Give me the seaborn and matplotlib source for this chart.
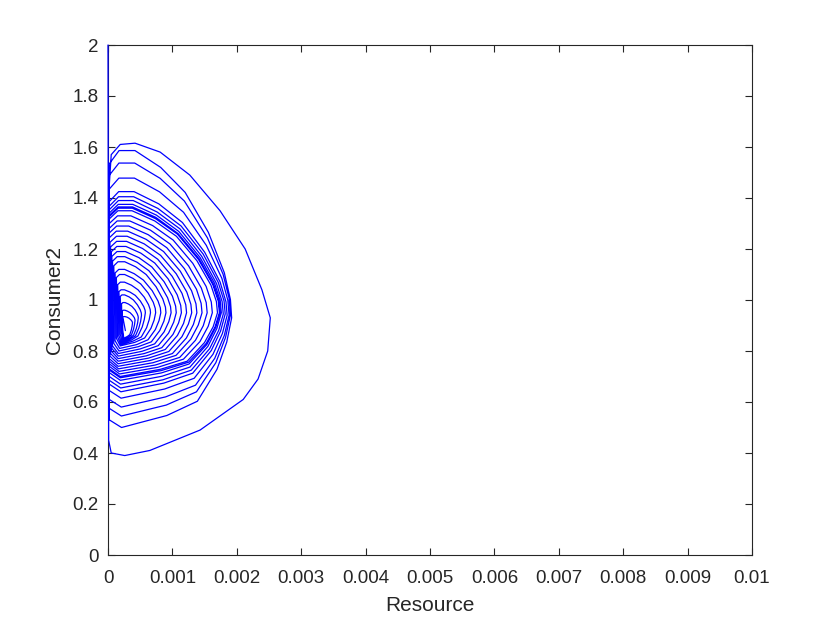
import numpy as np
import pandas as pd
import matplotlib
matplotlib.use("Agg")
import matplotlib.pyplot as plt
import seaborn as sns

# Trajectory points (Resource in units of 1e-3, Consumer2)
resource_milli = [
    0.00, 0.01, 0.05,
    # loop 1
    0.26, 0.65, 1.43, 2.10, 2.33, 2.48, 2.52, 2.39, 2.13, 1.74, 1.27, 0.81, 0.42, 0.19, 0.05, 0.02, 0.02,
    # loop 2
    0.210, 0.913, 1.388, 1.692, 1.844, 1.920, 1.901, 1.806, 1.559, 1.198, 0.818, 0.419, 0.172, 0.02, 0.02,
    # loop 3
    0.208, 0.904, 1.374, 1.674, 1.825, 1.900, 1.881, 1.787, 1.543, 1.186, 0.810, 0.415, 0.170, 0.02, 0.02,
    # loop 4
    0.206, 0.894, 1.359, 1.657, 1.806, 1.880, 1.861, 1.768, 1.527, 1.173, 0.801, 0.411, 0.169, 0.02, 0.02,
    # loop 5
    0.203, 0.880, 1.338, 1.630, 1.777, 1.850, 1.832, 1.740, 1.502, 1.155, 0.789, 0.404, 0.166, 0.02, 0.02,
    # loop 6
    0.200, 0.866, 1.316, 1.604, 1.748, 1.820, 1.802, 1.712, 1.478, 1.136, 0.776, 0.398, 0.164, 0.02, 0.02,
    # loop 7
    0.197, 0.852, 1.294, 1.578, 1.719, 1.790, 1.772, 1.684, 1.454, 1.117, 0.763, 0.392, 0.162, 0.02, 0.02,
    # loop 8
    0.194, 0.838, 1.273, 1.551, 1.690, 1.760, 1.743, 1.656, 1.429, 1.099, 0.751, 0.385, 0.159, 0.02, 0.02,
    # loop 9
    0.192, 0.828, 1.258, 1.534, 1.671, 1.740, 1.723, 1.637, 1.413, 1.086, 0.742, 0.381, 0.158, 0.02, 0.02,
    # loop 10
    0.191, 0.824, 1.251, 1.525, 1.662, 1.730, 1.713, 1.627, 1.405, 1.080, 0.738, 0.379, 0.157, 0.02, 0.02,
    # loop 11
    0.188, 0.810, 1.230, 1.498, 1.633, 1.700, 1.683, 1.599, 1.381, 1.062, 0.726, 0.373, 0.154, 0.02, 0.02,
    # loop 12
    0.180, 0.772, 1.172, 1.428, 1.556, 1.620, 1.604, 1.524, 1.316, 1.012, 0.692, 0.356, 0.148, 0.02, 0.02,
    # loop 13
    0.172, 0.734, 1.114, 1.358, 1.479, 1.540, 1.525, 1.449, 1.251, 0.962, 0.658, 0.339, 0.142, 0.02, 0.02,
    # loop 14
    0.164, 0.697, 1.057, 1.287, 1.402, 1.460, 1.446, 1.374, 1.186, 0.913, 0.625, 0.322, 0.135, 0.02, 0.02,
    # loop 15
    0.156, 0.659, 1.000, 1.217, 1.326, 1.380, 1.366, 1.298, 1.122, 0.863, 0.591, 0.306, 0.129, 0.02, 0.03,
    # loop 16
    0.157, 0.627, 0.944, 1.148, 1.249, 1.300, 1.287, 1.224, 1.059, 0.817, 0.563, 0.297, 0.132, 0.03, 0.04,
    # loop 17
    0.158, 0.595, 0.890, 1.078, 1.173, 1.220, 1.208, 1.149, 0.996, 0.772, 0.536, 0.288, 0.134, 0.04, 0.05,
    # loop 18
    0.159, 0.562, 0.835, 1.009, 1.096, 1.140, 1.129, 1.075, 0.933, 0.726, 0.508, 0.279, 0.137, 0.05, 0.06,
    # loop 19
    0.160, 0.530, 0.780, 0.940, 1.020, 1.060, 1.050, 1.000, 0.870, 0.680, 0.480, 0.270, 0.140, 0.06, 0.07,
    # loop 20
    0.161, 0.498, 0.725, 0.871, 0.944, 0.980, 0.971, 0.925, 0.807, 0.634, 0.452, 0.261, 0.143, 0.07, 0.09,
    # loop 21
    0.171, 0.471, 0.673, 0.803, 0.868, 0.900, 0.892, 0.851, 0.746, 0.592, 0.430, 0.260, 0.155, 0.09, 0.11,
    # loop 22
    0.181, 0.444, 0.621, 0.735, 0.792, 0.820, 0.813, 0.777, 0.685, 0.550, 0.408, 0.259, 0.167, 0.11, 0.13,
    # loop 23
    0.191, 0.417, 0.569, 0.667, 0.716, 0.740, 0.734, 0.703, 0.624, 0.508, 0.386, 0.258, 0.179, 0.13, 0.15,
    # loop 24
    0.201, 0.390, 0.517, 0.599, 0.640, 0.660, 0.655, 0.629, 0.563, 0.466, 0.364, 0.257, 0.191, 0.15, 0.17,
    # loop 25
    0.211, 0.363, 0.465, 0.531, 0.564, 0.580, 0.576, 0.555, 0.502, 0.424, 0.342, 0.256, 0.203, 0.17, 0.19,
    # loop 26
    0.223, 0.345, 0.428, 0.480, 0.507, 0.520, 0.517, 0.500, 0.457, 0.395, 0.329, 0.259, 0.216, 0.19, 0.21,
    # loop 27
    0.236, 0.332, 0.397, 0.439, 0.460, 0.470, 0.467, 0.454, 0.421, 0.371, 0.319, 0.265, 0.231, 0.21, 0.22,
    # loop 28
    0.240, 0.314, 0.364, 0.396, 0.412, 0.420, 0.418, 0.408, 0.382, 0.344, 0.304, 0.262, 0.236, 0.22, 0.23,
    # loop 29
    0.245, 0.301, 0.338, 0.362, 0.374, 0.380, 0.379, 0.371, 0.352, 0.323, 0.293, 0.262, 0.242, 0.23, 0.27,
]

consumer2 = [
    2.00, 0.45, 0.40,
    # loop 1
    0.39, 0.41, 0.49, 0.61, 0.69, 0.80, 0.93, 1.04, 1.20, 1.35, 1.49, 1.58, 1.615, 1.61, 1.57, 1.45, 0.53,
    # loop 2
    0.500, 0.547, 0.603, 0.728, 0.835, 0.930, 1.002, 1.107, 1.265, 1.422, 1.520, 1.586, 1.586, 1.534, 0.575,
    # loop 3
    0.545, 0.588, 0.640, 0.754, 0.853, 0.940, 1.006, 1.101, 1.244, 1.388, 1.477, 1.537, 1.537, 1.489, 0.610,
    # loop 4
    0.580, 0.620, 0.666, 0.771, 0.861, 0.940, 0.999, 1.085, 1.214, 1.344, 1.424, 1.478, 1.478, 1.435, 0.645,
    # loop 5
    0.615, 0.651, 0.693, 0.787, 0.869, 0.940, 0.993, 1.071, 1.187, 1.304, 1.377, 1.425, 1.425, 1.386, 0.670,
    # loop 6
    0.640, 0.674, 0.713, 0.802, 0.878, 0.945, 0.996, 1.069, 1.180, 1.290, 1.359, 1.405, 1.405, 1.368, 0.685,
    # loop 7
    0.655, 0.687, 0.725, 0.809, 0.881, 0.945, 0.994, 1.065, 1.172, 1.279, 1.345, 1.390, 1.390, 1.354, 0.700,
    # loop 8
    0.670, 0.701, 0.737, 0.818, 0.888, 0.950, 0.997, 1.065, 1.167, 1.269, 1.333, 1.375, 1.375, 1.341, 0.715,
    # loop 9
    0.685, 0.714, 0.749, 0.825, 0.892, 0.950, 0.996, 1.062, 1.162, 1.261, 1.324, 1.365, 1.365, 1.332, 0.725,
    # loop 10
    0.695, 0.723, 0.756, 0.830, 0.894, 0.950, 0.995, 1.061, 1.159, 1.258, 1.319, 1.360, 1.360, 1.327, 0.730,
    # loop 11
    0.700, 0.728, 0.760, 0.833, 0.895, 0.950, 0.994, 1.058, 1.154, 1.250, 1.310, 1.350, 1.350, 1.318, 0.740,
    # loop 12
    0.710, 0.736, 0.768, 0.837, 0.897, 0.950, 0.992, 1.053, 1.144, 1.235, 1.292, 1.330, 1.330, 1.300, 0.750,
    # loop 13
    0.720, 0.745, 0.775, 0.842, 0.899, 0.950, 0.990, 1.047, 1.134, 1.220, 1.274, 1.310, 1.310, 1.281, 0.760,
    # loop 14
    0.730, 0.754, 0.783, 0.847, 0.902, 0.950, 0.987, 1.042, 1.123, 1.205, 1.256, 1.290, 1.290, 1.263, 0.770,
    # loop 15
    0.740, 0.763, 0.790, 0.851, 0.904, 0.950, 0.985, 1.036, 1.113, 1.190, 1.238, 1.270, 1.270, 1.244, 0.780,
    # loop 16
    0.750, 0.772, 0.798, 0.856, 0.906, 0.950, 0.983, 1.031, 1.103, 1.175, 1.220, 1.250, 1.250, 1.226, 0.790,
    # loop 17
    0.760, 0.781, 0.806, 0.861, 0.908, 0.950, 0.981, 1.026, 1.093, 1.160, 1.202, 1.230, 1.230, 1.208, 0.800,
    # loop 18
    0.770, 0.790, 0.813, 0.865, 0.910, 0.950, 0.979, 1.020, 1.083, 1.145, 1.184, 1.210, 1.210, 1.189, 0.810,
    # loop 19
    0.780, 0.799, 0.821, 0.870, 0.913, 0.950, 0.976, 1.015, 1.072, 1.130, 1.166, 1.190, 1.190, 1.171, 0.820,
    # loop 20
    0.790, 0.808, 0.828, 0.875, 0.915, 0.950, 0.974, 1.009, 1.062, 1.115, 1.148, 1.170, 1.170, 1.152, 0.830,
    # loop 21
    0.800, 0.817, 0.836, 0.880, 0.917, 0.950, 0.972, 1.004, 1.052, 1.100, 1.130, 1.150, 1.150, 1.134, 0.840,
    # loop 22
    0.810, 0.825, 0.844, 0.884, 0.919, 0.950, 0.969, 0.996, 1.037, 1.078, 1.103, 1.120, 1.120, 1.106, 0.850,
    # loop 23
    0.820, 0.834, 0.851, 0.889, 0.921, 0.950, 0.967, 0.991, 1.027, 1.063, 1.085, 1.100, 1.100, 1.088, 0.855,
    # loop 24
    0.825, 0.839, 0.855, 0.891, 0.923, 0.950, 0.963, 0.982, 1.011, 1.040, 1.058, 1.070, 1.070, 1.060, 0.860,
    # loop 25
    0.830, 0.843, 0.859, 0.894, 0.924, 0.950, 0.960, 0.974, 0.996, 1.018, 1.031, 1.040, 1.040, 1.033, 0.865,
    # loop 26
    0.835, 0.847, 0.860, 0.891, 0.917, 0.940, 0.949, 0.962, 0.981, 1.000, 1.012, 1.020, 1.020, 1.014, 0.870,
    # loop 27
    0.840, 0.850, 0.862, 0.888, 0.910, 0.930, 0.937, 0.946, 0.961, 0.975, 0.984, 0.990, 0.990, 0.985, 0.875,
    # loop 28
    0.845, 0.853, 0.863, 0.885, 0.904, 0.920, 0.924, 0.931, 0.940, 0.950, 0.956, 0.960, 0.960, 0.957, 0.880,
    # loop 29
    0.850, 0.857, 0.864, 0.882, 0.897, 0.910, 0.913, 0.917, 0.923, 0.929, 0.933, 0.935, 0.935, 0.933, 0.880,
]

x_ticks = [0, 0.001, 0.002, 0.003, 0.004, 0.005, 0.006, 0.007, 0.008, 0.009, 0.01]
x_tick_labels = ["0", "0.001", "0.002", "0.003", "0.004", "0.005", "0.006", "0.007", "0.008", "0.009", "0.01"]
y_ticks = [0, 0.2, 0.4, 0.6, 0.8, 1.0, 1.2, 1.4, 1.6, 1.8, 2.0]
y_tick_labels = ["0", "0.2", "0.4", "0.6", "0.8", "1", "1.2", "1.4", "1.6", "1.8", "2"]

df = pd.DataFrame({
    "Resource": np.array(resource_milli) * 1e-3,
    "Consumer2": consumer2,
})

sns.set_style("white")
plt.rcParams["font.family"] = ["Liberation Sans", "DejaVu Sans"]

fig = plt.figure(figsize=(8.3, 6.23), dpi=100)
ax = fig.add_axes([108 / 830, 68 / 623, 644 / 830, 510 / 623])

sns.lineplot(data=df, x="Resource", y="Consumer2", sort=False, estimator=None,
             color="#0000ff", linewidth=0.9, ax=ax)
for ln in ax.lines:
    ln.set_clip_on(False)
    ln.set_zorder(3)

ax.set_xlim(0, 0.01)
ax.set_ylim(0, 2)
ax.set_xticks(x_ticks)
ax.set_xticklabels(x_tick_labels)
ax.set_yticks(y_ticks)
ax.set_yticklabels(y_tick_labels)

axcol = "#262626"
for s in ax.spines.values():
    s.set_visible(True)
    s.set_color(axcol)
    s.set_linewidth(0.8)
ax.tick_params(direction="in", length=5, width=0.8, colors=axcol, labelsize=13.5,
               top=True, right=True, bottom=True, left=True)
ax.tick_params(axis="x", pad=11)
ax.tick_params(axis="y", pad=7)
ax.set_xlabel("Resource", fontsize=15, color=axcol, labelpad=6)
ax.set_ylabel("Consumer2", fontsize=15, color=axcol, labelpad=6)
ax.grid(False)

fig.savefig("out.png", dpi=100)
